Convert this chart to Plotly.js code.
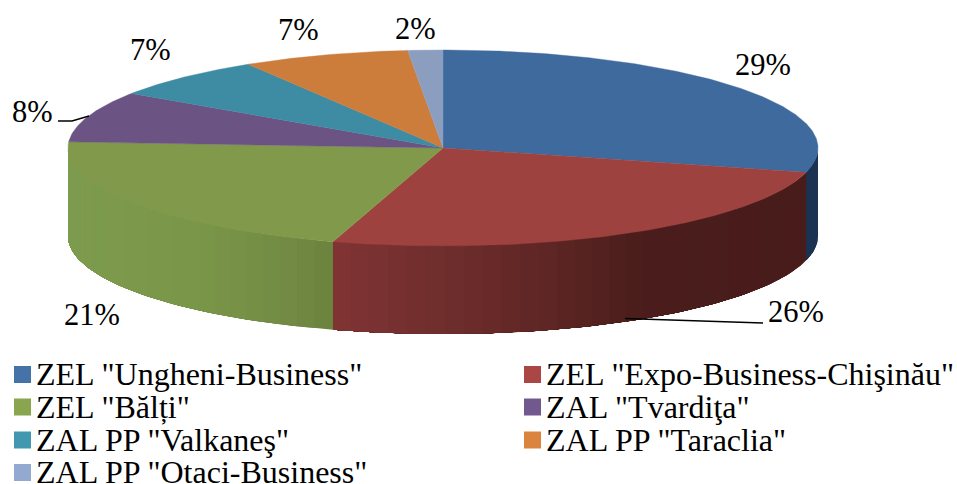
<!DOCTYPE html>
<html><head><meta charset="utf-8">
<script src="https://cdn.plot.ly/plotly-3.0.0.min.js"></script>
<style>html,body{margin:0;padding:0;background:#fff}#c{width:957px;height:484px}</style>
</head><body><div id="c"></div>
<script>
const categories = ['ZEL "Ungheni-Business"','ZEL "Expo-Business-Chişinău"','ZEL "Bălți"','ZAL "Tvardiţa"','ZAL PP "Valkaneş"','ZAL PP "Taraclia"','ZAL PP "Otaci-Business"'];
const shares = [29, 25.74, 21.26, 8.4, 6.9, 7.2, 1.5];
const shareLabels = ['29%','26%','21%','8%','7%','7%','2%'];
const faceColors = ['#3F6A9D','#9E4240','#80994A','#6B5384','#3E8CA3','#CC7C3B','#8B9EC0'];
const swatchColors = ['#4573A7','#AA4643','#89A54E','#71588F','#4198AF','#DB843D','#93A9CF'];

const W = 957, H = 484;
const pie = {cx: 443, cy: 148, rx: 375, ry: 98, depth: 88};
const labelPos = [[763,65],[796,312],[92,315],[32,112],[150,50],[298,30],[415,29]];
const legendCols = [14, 524], legendRows = [374, 407, 439.5, 472];
const swatchRows = [374.5, 407, 440, 472.5];
const FONT = '"Liberation Serif","Times New Roman",serif';

const total = shares.reduce((a,b)=>a+b,0);
const px = t => pie.cx + pie.rx*Math.sin(t);
const py = t => pie.cy - pie.ry*Math.cos(t);
const traces = [];

const wallStops = {
  0: [[806,[27,51,82]],[818,[27,51,82]]],
  1: [[333,[128,52,52]],[450,[110,45,44]],[550,[94,38,36]],[640,[74,29,28]],[806,[72,28,27]]],
  2: [[69,[125,155,78]],[200,[122,150,72]],[280,[115,140,68]],[333,[108,130,62]]]
};
function shade(i, x){
  const s = wallStops[i];
  if(x<=s[0][0]) return 'rgb('+s[0][1]+')';
  for(let k=1;k<s.length;k++){
    if(x<=s[k][0]){
      const f=(x-s[k-1][0])/(s[k][0]-s[k-1][0]);
      return 'rgb('+s[k][1].map((v,j)=>Math.round(s[k-1][1][j]+(v-s[k-1][1][j])*f))+')';
    }
  }
  return 'rgb('+s[s.length-1][1]+')';
}

let c = 0;
shares.forEach((v,i)=>{
  const a = c/total*2*Math.PI, b = (c+v)/total*2*Math.PI; c += v;
  const lo = Math.max(a, Math.PI/2), hi = Math.min(b, 3*Math.PI/2);
  if(hi<=lo) return;
  const n = Math.max(2, Math.round((hi-lo)/0.05));
  for(let k=0;k<n;k++){
    const t0 = lo+(hi-lo)*k/n, t1 = lo+(hi-lo)*(k+1)/n;
    const m = Math.max(4, Math.round((hi-t0)/0.02));
    const xs=[],ys=[];
    for(let j=0;j<=m;j++){const t=t0+(hi-t0)*j/m; xs.push(px(t)); ys.push(py(t));}
    for(let j=m;j>=0;j--){const t=t0+(hi-t0)*j/m; xs.push(px(t)); ys.push(py(t)+pie.depth);}
    xs.push(xs[0]); ys.push(ys[0]);
    const col = shade(i,(px(t0)+px(t1))/2);
    traces.push({type:'scatter',mode:'lines',x:xs,y:ys,fill:'toself',fillcolor:col,
      line:{color:col,width:0},hoverinfo:'skip',showlegend:false});
  }
});

c = 0;
shares.forEach((v,i)=>{
  const a = c/total*2*Math.PI, b = (c+v)/total*2*Math.PI; c += v;
  const xs=[pie.cx], ys=[pie.cy];
  const n = Math.max(4, Math.round((b-a)/0.01));
  for(let j=0;j<=n;j++){const t=a+(b-a)*j/n; xs.push(px(t)); ys.push(py(t));}
  xs.push(pie.cx); ys.push(pie.cy);
  traces.push({type:'scatter',mode:'lines',x:xs,y:ys,fill:'toself',fillcolor:faceColors[i],
    line:{color:faceColors[i],width:0.4},name:categories[i],showlegend:false,hoverinfo:'name'});
});

traces.push({type:'scatter',mode:'lines',x:[58,72,89],y:[121,121,116],line:{color:'#000',width:1.4},hoverinfo:'skip',showlegend:false});
traces.push({type:'scatter',mode:'lines',x:[625,763],y:[318.5,323],line:{color:'#000',width:1.4},hoverinfo:'skip',showlegend:false});

const ann = [];
const legX=[],legY=[];
categories.forEach((name,i)=>{
  const col = i%2, row = Math.floor(i/2);
  legX.push(legendCols[col]+8.5); legY.push(swatchRows[row]);
  ann.push({x:legendCols[col]+20,y:legendRows[row],xref:'x',yref:'y',text:name,showarrow:false,
    xanchor:'left',yanchor:'middle',font:{family:FONT,size:32,color:'#000'}});
});
traces.push({type:'scatter',mode:'markers',x:legX,y:legY,
  marker:{symbol:'square',size:17,color:swatchColors,line:{width:0}},hoverinfo:'skip',showlegend:false});

shareLabels.forEach((t,i)=>{
  ann.push({x:labelPos[i][0],y:labelPos[i][1],xref:'x',yref:'y',text:t,showarrow:false,
    xanchor:'center',yanchor:'middle',font:{family:FONT,size:30.5,color:'#000'}});
});

Plotly.newPlot('c',traces,{
  width:W,height:H,margin:{l:0,r:0,t:0,b:0,pad:0},
  paper_bgcolor:'#fff',plot_bgcolor:'#fff',showlegend:false,
  xaxis:{range:[0,W],visible:false,fixedrange:true},
  yaxis:{range:[H,0],visible:false,fixedrange:true},
  annotations:ann
},{displayModeBar:false,responsive:false});
</script></body></html>
